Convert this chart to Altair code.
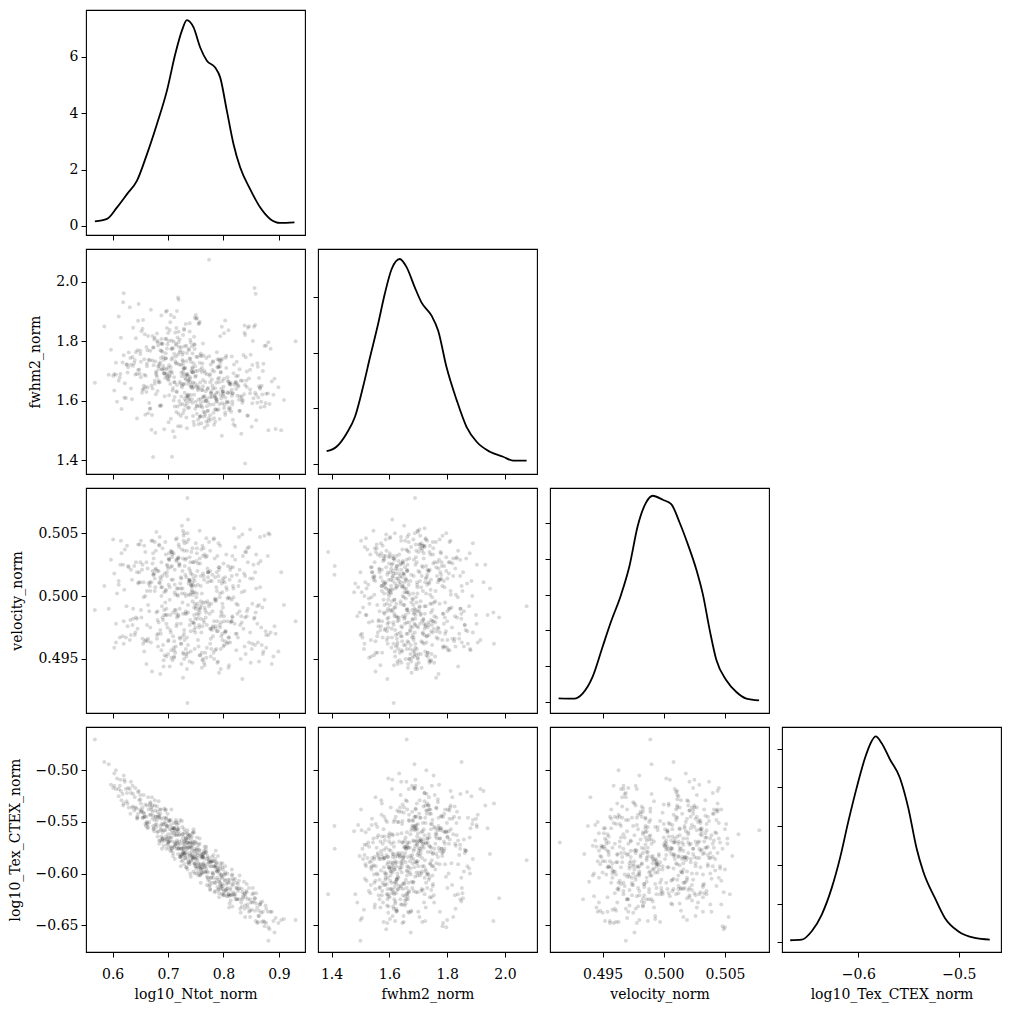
import altair as alt
import pandas as pd

# Posterior samples (one entry per draw)
ntot = [
    0.742, 0.691, 0.788, 0.735, 0.804, 0.667, 0.758, 0.719, 0.812, 0.703, 0.776, 0.731,
    0.654, 0.748, 0.795, 0.726, 0.683, 0.839, 0.712, 0.765, 0.745, 0.622, 0.781, 0.737,
    0.698, 0.829, 0.751, 0.709, 0.676, 0.792, 0.739, 0.861, 0.728, 0.756, 0.688, 0.801,
    0.744, 0.715, 0.642, 0.771, 0.733, 0.799, 0.706, 0.822, 0.752, 0.681, 0.763, 0.727,
    0.568, 0.786, 0.741, 0.695, 0.817, 0.722, 0.659, 0.759, 0.794, 0.711, 0.848, 0.736,
    0.673, 0.769, 0.729, 0.806, 0.747, 0.701, 0.785, 0.633, 0.754, 0.718, 0.833, 0.692,
    0.762, 0.738, 0.874, 0.685, 0.797, 0.724, 0.753, 0.664, 0.779, 0.743, 0.708, 0.815,
    0.732, 0.603, 0.772, 0.697, 0.791, 0.749, 0.716, 0.856, 0.739, 0.678, 0.767, 0.802,
    0.721, 0.746, 0.689, 0.783, 0.611, 0.757, 0.734, 0.809, 0.699, 0.764, 0.842, 0.725,
    0.668, 0.793, 0.740, 0.714, 0.778, 0.930, 0.702, 0.755, 0.687, 0.824, 0.730, 0.761,
    0.749, 0.646, 0.798, 0.720, 0.771, 0.707, 0.836, 0.743, 0.679, 0.789, 0.733, 0.811,
    0.694, 0.758, 0.727, 0.866, 0.716, 0.782, 0.651, 0.746, 0.803, 0.737, 0.672, 0.768,
    0.753, 0.710, 0.790, 0.585, 0.741, 0.818, 0.698, 0.764, 0.729, 0.796, 0.684, 0.750,
    0.723, 0.852, 0.705, 0.775, 0.738, 0.661, 0.787, 0.744, 0.813, 0.693, 0.760, 0.731,
    0.780, 0.717, 0.627, 0.754, 0.826, 0.700, 0.770, 0.740, 0.676, 0.795, 0.748, 0.881,
    0.712, 0.763, 0.735, 0.686, 0.801, 0.725, 0.657, 0.777, 0.751, 0.844, 0.706, 0.742,
    0.796, 0.670, 0.757, 0.728, 0.808, 0.696, 0.773, 0.614, 0.747, 0.791, 0.719, 0.834,
    0.739, 0.682, 0.766, 0.904, 0.721, 0.785, 0.703, 0.759, 0.736, 0.820, 0.665, 0.752,
    0.774, 0.730, 0.691, 0.798, 0.744, 0.637, 0.762, 0.715, 0.807, 0.727, 0.859, 0.690,
    0.756, 0.709, 0.784, 0.734, 0.677, 0.829, 0.748, 0.701, 0.769, 0.593, 0.789, 0.723,
    0.745, 0.816, 0.688, 0.760, 0.732, 0.799, 0.662, 0.776, 0.718, 0.849, 0.741, 0.705,
    0.786, 0.649, 0.753, 0.724, 0.810, 0.696, 0.767, 0.738, 0.871, 0.713, 0.781, 0.674,
    0.750, 0.729, 0.794, 0.704, 0.763, 0.620, 0.743, 0.823, 0.686, 0.772, 0.736, 0.805,
    0.716, 0.758, 0.680, 0.788, 0.747, 0.839, 0.697, 0.765, 0.727, 0.656, 0.793, 0.740,
    0.761, 0.711, 0.803, 0.733, 0.672, 0.777, 0.749, 0.864, 0.707, 0.755, 0.815, 0.726,

    0.812, 0.668, 0.745, 0.851, 0.702, 0.637, 0.779, 0.724, 0.866, 0.690, 0.759, 0.613,
    0.798, 0.731, 0.655, 0.827, 0.746, 0.684, 0.890, 0.717, 0.772, 0.641, 0.805, 0.709,
    0.676, 0.838, 0.752, 0.625, 0.790, 0.698, 0.861, 0.737, 0.660, 0.818, 0.713, 0.784,
    0.741, 0.603, 0.793, 0.679, 0.846, 0.722, 0.763, 0.650, 0.832, 0.705, 0.877, 0.688,
    0.768, 0.632, 0.809, 0.733, 0.695, 0.857, 0.662, 0.786, 0.720, 0.899, 0.647, 0.755,
    0.694, 0.821, 0.715, 0.776, 0.618, 0.841, 0.739, 0.671, 0.800, 0.726, 0.883, 0.658,
    0.787, 0.706, 0.867, 0.644, 0.760, 0.692, 0.815, 0.729, 0.608, 0.848, 0.682, 0.773,
    0.723, 0.835, 0.664, 0.797, 0.711, 0.629, 0.870, 0.750, 0.686, 0.824, 0.744, 0.597,
    0.854, 0.700, 0.783, 0.652, 0.811, 0.736, 0.673, 0.892, 0.718, 0.766, 0.639, 0.803,
    0.710, 0.780, 0.620, 0.843, 0.697, 0.757, 0.666, 0.829, 0.734, 0.874, 0.681, 0.792,
    0.762, 0.645, 0.817, 0.703, 0.859, 0.727, 0.683, 0.806, 0.615, 0.770, 0.712, 0.840,
    0.693, 0.863, 0.748, 0.656, 0.788, 0.719, 0.831, 0.675, 0.909, 0.742, 0.631, 0.799,
    0.821, 0.687, 0.771, 0.606, 0.735, 0.855, 0.701, 0.795, 0.661, 0.776, 0.846, 0.714,
    0.654, 0.785, 0.728, 0.880, 0.696, 0.813, 0.640, 0.757, 0.823, 0.689, 0.765, 0.626,
    0.837, 0.708, 0.670, 0.794, 0.751, 0.862, 0.635, 0.732, 0.810, 0.678, 0.885, 0.721,
    0.744, 0.659, 0.826, 0.699, 0.778, 0.611, 0.852, 0.716, 0.769, 0.648, 0.801, 0.733,
    0.685, 0.872, 0.739, 0.807, 0.663, 0.754, 0.834, 0.704, 0.621, 0.789, 0.725, 0.858,
    0.776, 0.642, 0.816, 0.730, 0.894, 0.674, 0.761, 0.696, 0.844, 0.712, 0.783, 0.653,
    0.707, 0.830, 0.667, 0.758, 0.601, 0.803, 0.720, 0.869, 0.690, 0.747, 0.819, 0.680,
    0.796, 0.628, 0.736, 0.853, 0.715, 0.774, 0.657, 0.838, 0.702, 0.781, 0.644, 0.864,
    0.727, 0.809, 0.684, 0.766, 0.877, 0.633, 0.749, 0.828, 0.669, 0.792, 0.711, 0.616,
    0.848, 0.698, 0.782, 0.651, 0.825, 0.740, 0.887, 0.677, 0.764, 0.606, 0.816, 0.730,
    0.672, 0.800, 0.719, 0.868, 0.646, 0.777, 0.706, 0.839, 0.752, 0.624, 0.791, 0.688,
    0.814, 0.734, 0.663, 0.857, 0.700, 0.770, 0.636, 0.808, 0.723, 0.881, 0.693, 0.759,
    0.745, 0.876, 0.681, 0.787, 0.619, 0.833, 0.714, 0.767, 0.650, 0.842, 0.729, 0.798,
]

fwhm2 = [
    1.652, 1.718, 1.604, 1.689, 1.745, 1.573, 1.661, 1.797, 1.628, 1.682, 1.551, 1.709,
    1.637, 1.774, 1.695, 1.589, 1.668, 1.821, 1.612, 1.702, 1.548, 1.659, 1.733, 1.620,
    1.691, 1.565, 1.748, 1.643, 1.812, 1.677, 1.598, 1.726, 1.655, 1.861, 1.584, 1.674,
    1.708, 1.632, 1.763, 1.517, 1.686, 1.617, 1.739, 1.664, 1.582, 1.801, 1.649, 1.697,
    1.660, 1.608, 1.731, 1.676, 1.536, 1.768, 1.646, 1.593, 1.714, 1.881, 1.625, 1.683,
    1.410, 1.744, 1.656, 1.597, 1.789, 1.669, 1.529, 1.721, 1.641, 1.756, 1.603, 1.693,
    1.725, 1.577, 1.580, 1.662, 1.849, 1.614, 1.700, 1.558, 1.671, 1.783, 1.634, 1.749,
    1.599, 1.690, 1.643, 1.809, 1.571, 1.716, 1.653, 1.980, 1.742, 1.622, 1.694, 1.586,
    1.763, 1.647, 1.705, 1.541, 1.667, 1.728, 1.590, 1.837, 1.679, 1.612, 1.698, 1.651,
    1.574, 1.736, 1.663, 1.792, 1.624, 1.800, 1.685, 1.521, 1.744, 1.659, 1.606, 1.711,
    1.681, 1.869, 1.591, 1.722, 1.639, 1.411, 1.754, 1.605, 1.687, 1.568, 1.733, 1.657,
    1.615, 1.704, 1.762, 1.644, 1.902, 1.587, 1.679, 1.726, 1.552, 1.669, 1.818, 1.632,
    1.747, 1.601, 1.673, 1.850, 1.619, 1.692, 1.776, 1.563, 1.688, 1.640, 1.724, 1.596,
    1.658, 1.720, 1.539, 1.684, 1.771, 1.629, 1.596, 1.713, 1.660, 1.504, 1.750, 1.676,
    1.703, 1.580, 1.695, 1.635, 1.652, 1.828, 1.607, 1.741, 1.667, 1.618, 1.789, 1.500,
    1.661, 1.793, 1.615, 1.729, 1.575, 1.682, 1.740, 1.626, 1.876, 1.549, 1.699, 1.645,
    1.735, 1.651, 1.581, 1.707, 1.666, 1.760, 1.531, 1.690, 1.620, 1.712, 1.940, 1.593,
    1.673, 1.715, 1.560, 1.500, 1.806, 1.642, 1.697, 1.759, 1.610, 1.654, 1.738, 1.583,
    2.075, 1.627, 1.748, 1.666, 1.593, 1.718, 1.636, 1.845, 1.679, 1.558, 1.620, 1.706,
    1.644, 1.777, 1.618, 1.690, 1.732, 1.566, 1.659, 1.801, 1.601, 1.687, 1.713, 1.548,
    1.696, 1.624, 1.767, 1.583, 1.671, 1.633, 1.725, 1.662, 1.514, 1.755, 1.648, 1.889,
    1.609, 1.691, 1.652, 1.780, 1.577, 1.743, 1.663, 1.606, 1.700, 1.830, 1.641, 1.719,
    1.684, 1.569, 1.727, 1.656, 1.612, 1.962, 1.696, 1.639, 1.770, 1.595, 1.666, 1.710,
    1.628, 1.752, 1.681, 1.599, 1.815, 1.388, 1.706, 1.546, 1.733, 1.650, 1.589, 1.679,
    1.697, 1.663, 1.611, 1.785, 1.641, 1.722, 1.573, 1.649, 1.692, 1.858, 1.617, 1.737,

    1.574, 1.768, 1.661, 1.512, 1.719, 1.846, 1.612, 1.694, 1.640, 1.792, 1.548, 1.678,
    1.741, 1.583, 1.872, 1.648, 1.529, 1.707, 1.620, 1.813, 1.566, 1.688, 1.751, 1.497,
    1.657, 1.829, 1.556, 1.722, 1.628, 1.903, 1.593, 1.774, 1.684, 1.521, 1.733, 1.615,
    1.796, 1.634, 1.538, 1.699, 1.851, 1.587, 1.670, 1.757, 1.489, 1.713, 1.623, 1.887,
    1.599, 1.744, 1.664, 1.543, 1.808, 1.627, 1.716, 1.571, 1.781, 1.645, 1.926, 1.604,
    1.693, 1.515, 1.787, 1.612, 1.729, 1.668, 1.861, 1.552, 1.647, 1.755, 1.589, 1.824,
    1.626, 1.803, 1.578, 1.690, 1.524, 1.738, 1.637, 1.842, 1.596, 1.704, 1.786, 1.541,
    1.720, 1.601, 1.818, 1.482, 1.679, 1.762, 1.621, 1.889, 1.584, 1.731, 1.642, 1.772,
    1.608, 1.711, 1.519, 1.834, 1.656, 1.575, 1.779, 1.674, 1.948, 1.616, 1.727, 1.560,
    1.799, 1.651, 1.753, 1.550, 1.686, 1.866, 1.592, 1.706, 1.507, 1.784, 1.633, 1.740,
    1.577, 1.770, 1.625, 1.838, 1.534, 1.723, 1.661, 1.594, 1.812, 1.689, 1.478, 1.746,
    1.708, 1.611, 1.879, 1.639, 1.763, 1.556, 1.668, 1.806, 1.602, 1.701, 1.915, 1.630,
    1.660, 1.793, 1.565, 1.728, 1.619, 1.849, 1.527, 1.697, 1.781, 1.586, 1.675, 1.749,
    1.842, 1.570, 1.709, 1.624, 1.900, 1.654, 1.737, 1.545, 1.682, 1.791, 1.598, 1.722,
    1.622, 1.745, 1.502, 1.817, 1.647, 1.714, 1.605, 1.858, 1.569, 1.693, 1.775, 1.663,
    1.759, 1.553, 1.684, 1.790, 1.631, 1.884, 1.591, 1.726, 1.530, 1.705, 1.827, 1.614,
    1.582, 1.724, 1.833, 1.628, 1.770, 1.536, 1.667, 1.864, 1.610, 1.739, 1.645, 1.960,
    1.690, 1.810, 1.597, 1.711, 1.505, 1.779, 1.636, 1.742, 1.846, 1.580, 1.698, 1.627,
    1.777, 1.615, 1.736, 1.547, 1.683, 1.870, 1.599, 1.650, 1.765, 1.518, 1.722, 1.826,
    1.607, 1.713, 1.656, 1.801, 1.562, 1.750, 1.687, 1.853, 1.618, 1.730, 1.540, 1.676,
    1.821, 1.595, 1.718, 1.509, 1.786, 1.641, 1.700, 1.603, 1.906, 1.662, 1.758, 1.572,
    1.638, 1.845, 1.559, 1.731, 1.617, 1.805, 1.665, 1.492, 1.752, 1.687, 1.587, 1.783,
    1.735, 1.623, 1.832, 1.596, 1.703, 1.537, 1.773, 1.653, 1.878, 1.609, 1.716, 1.808,
    1.563, 1.761, 1.644, 1.855, 1.673, 1.581, 1.747, 1.625, 1.514, 1.797, 1.691, 1.606,
    1.695, 1.592, 1.797, 1.660, 1.932, 1.613, 1.725, 1.553, 1.768, 1.646, 1.838, 1.629,
]

velocity = [
    0.5003, 0.4981, 0.5019, 0.5078, 0.4972, 0.5008, 0.4990, 0.5031, 0.4963, 0.4997, 0.5012, 0.4986,
    0.5025, 0.4994, 0.4958, 0.5006, 0.4979, 0.5016, 0.4989, 0.4947, 0.5001, 0.5037, 0.4975, 0.5010,
    0.4985, 0.5021, 0.4999, 0.4968, 0.5004, 0.4939, 0.5013, 0.4992, 0.5044, 0.4977, 0.5007, 0.4961,
    0.4996, 0.5028, 0.4983, 0.5011, 0.4954, 0.4991, 0.5035, 0.4970, 0.5002, 0.4988, 0.5018, 0.5052,
    0.4989, 0.4974, 0.5009, 0.4995, 0.5023, 0.4966, 0.5000, 0.4982, 0.5040, 0.4957, 0.5014, 0.4993,
    0.5017, 0.4987, 0.4950, 0.5005, 0.4978, 0.5030, 0.4998, 0.4969, 0.5026, 0.4984, 0.5003, 0.4944,
    0.4976, 0.5012, 0.4997, 0.5047, 0.4986, 0.4962, 0.5020, 0.4993, 0.4973, 0.5008, 0.5033, 0.4980,
    0.5000, 0.4959, 0.5015, 0.4990, 0.5042, 0.4971, 0.5006, 0.4983, 0.4948, 0.5022, 0.4995, 0.5011,
    0.4967, 0.5027, 0.4992, 0.4980, 0.5009, 0.4953, 0.5036, 0.4999, 0.4975, 0.5016, 0.4988, 0.5056,
    0.5004, 0.4977, 0.5020, 0.4960, 0.4994, 0.4980, 0.5029, 0.4985, 0.5013, 0.4970, 0.5002, 0.4943,
    0.4982, 0.5010, 0.4965, 0.5039, 0.4996, 0.5024, 0.4974, 0.5005, 0.4987, 0.5032, 0.4952, 0.4998,
    0.5018, 0.4991, 0.4935, 0.5007, 0.4978, 0.5045, 0.4989, 0.5014, 0.4964, 0.5001, 0.5026, 0.4983,
    0.4994, 0.5034, 0.4972, 0.5008, 0.4956, 0.4999, 0.5019, 0.4981, 0.5050, 0.4968, 0.5011, 0.4990,
    0.5006, 0.4962, 0.5023, 0.4986, 0.5013, 0.4946, 0.4997, 0.5038, 0.4979, 0.5003, 0.4971, 0.5017,
    0.4988, 0.5030, 0.4976, 0.5009, 0.4993, 0.5022, 0.4959, 0.5001, 0.5043, 0.4984, 0.5012, 0.4969,
    0.5021, 0.4995, 0.4915, 0.5015, 0.4980, 0.5002, 0.5040, 0.4966, 0.4992, 0.5027, 0.4951, 0.5008,
    0.4979, 0.5011, 0.4987, 0.5048, 0.4963, 0.5004, 0.4994, 0.5025, 0.4973, 0.5016, 0.4985, 0.4934,
    0.5012, 0.4970, 0.5033, 0.5019, 0.4990, 0.4957, 0.5007, 0.4996, 0.5061, 0.4978, 0.5010, 0.4986,
    0.4992, 0.5024, 0.4961, 0.5003, 0.5017, 0.4982, 0.4949, 0.5029, 0.4998, 0.4968, 0.5006, 0.5038,
    0.4975, 0.5013, 0.4997, 0.4942, 0.5021, 0.4988, 0.5003, 0.4965, 0.5046, 0.4990, 0.4980, 0.5015,
    0.5009, 0.4984, 0.5027, 0.4993, 0.4958, 0.5012, 0.4977, 0.5036, 0.5000, 0.4947, 0.5018, 0.4971,
    0.4996, 0.5041, 0.4982, 0.5014, 0.4967, 0.5005, 0.4989, 0.5022, 0.4954, 0.5001, 0.4976, 0.5030,
    0.5016, 0.4973, 0.5002, 0.4985, 0.5032, 0.4962, 0.5011, 0.4994, 0.4938, 0.5019, 0.4987, 0.5007,
    0.4983, 0.5026, 0.4969, 0.5004, 0.4991, 0.5035, 0.4978, 0.5013, 0.4955, 0.4999, 0.5023, 0.4981,
    0.5002, 0.4964, 0.5015, 0.4986, 0.5044, 0.4974, 0.5008, 0.4993, 0.5031, 0.4960, 0.4997, 0.5020,

    0.5021, 0.4975, 0.5003, 0.4958, 0.5034, 0.4990, 0.5012, 0.4946, 0.5047, 0.4983, 0.5016, 0.4967,
    0.4994, 0.5029, 0.4962, 0.5008, 0.4979, 0.5041, 0.4952, 0.5001, 0.5019, 0.4971, 0.5033, 0.4987,
    0.5014, 0.4960, 0.5038, 0.4992, 0.4948, 0.5025, 0.4978, 0.5045, 0.4965, 0.5006, 0.4955, 0.5030,
    0.4972, 0.5018, 0.4999, 0.5051, 0.4963, 0.5010, 0.4950, 0.5027, 0.4984, 0.5036, 0.4969, 0.5000,
    0.5031, 0.4981, 0.4943, 0.5015, 0.5043, 0.4961, 0.5004, 0.4976, 0.5024, 0.4956, 0.5011, 0.4989,
    0.4953, 0.5039, 0.4986, 0.5020, 0.4968, 0.5035, 0.4977, 0.4940, 0.5026, 0.4995, 0.5049, 0.4964,
    0.5007, 0.4957, 0.5028, 0.4982, 0.5037, 0.4949, 0.5016, 0.4970, 0.5002, 0.5053, 0.4960, 0.5019,
    0.4978, 0.5032, 0.4966, 0.5010, 0.4951, 0.5023, 0.4991, 0.5042, 0.4973, 0.5017, 0.4947, 0.5029,
    0.5025, 0.4964, 0.5046, 0.4983, 0.5013, 0.4955, 0.5034, 0.4976, 0.5006, 0.4945, 0.5024, 0.4971,
    0.4959, 0.5017, 0.4980, 0.5038, 0.4952, 0.5030, 0.4988, 0.5012, 0.4967, 0.5048, 0.4981, 0.5021,
    0.5040, 0.4974, 0.5008, 0.4944, 0.5033, 0.4986, 0.5020, 0.4962, 0.5044, 0.4977, 0.5003, 0.4954,
    0.4985, 0.5026, 0.4958, 0.5011, 0.4972, 0.5041, 0.4950, 0.5018, 0.4993, 0.5035, 0.4965, 0.5014,
    0.5029, 0.4970, 0.5022, 0.4963, 0.5050, 0.4982, 0.5009, 0.4942, 0.5027, 0.4974, 0.5039, 0.4989,
    0.4966, 0.5015, 0.4954, 0.5032, 0.4985, 0.5023, 0.4969, 0.5052, 0.4957, 0.5007, 0.4979, 0.5040,
    0.5018, 0.4949, 0.5044, 0.4975, 0.5028, 0.4963, 0.5013, 0.4988, 0.4945, 0.5036, 0.4971, 0.5025,
    0.4979, 0.5035, 0.4967, 0.5024, 0.4958, 0.5012, 0.4994, 0.5046, 0.4951, 0.5019, 0.4984, 0.5030,
    0.5010, 0.4956, 0.5031, 0.4980, 0.5022, 0.4965, 0.5049, 0.4973, 0.5005, 0.4947, 0.5037, 0.4987,
    0.4962, 0.5027, 0.4983, 0.5042, 0.4970, 0.5017, 0.4955, 0.5033, 0.4990, 0.5009, 0.4950, 0.5021,
    0.5035, 0.4977, 0.5011, 0.4953, 0.5045, 0.4972, 0.5026, 0.4961, 0.5016, 0.4985, 0.5054, 0.4966,
    0.4988, 0.5024, 0.4961, 0.5014, 0.4976, 0.5043, 0.4956, 0.5004, 0.5029, 0.4968, 0.5019, 0.4948,
    0.5030, 0.4967, 0.5040, 0.4991, 0.4959, 0.5021, 0.4975, 0.5047, 0.4963, 0.5012, 0.4952, 0.5034,
    0.4971, 0.5016, 0.4955, 0.5044, 0.4986, 0.5027, 0.4946, 0.5007, 0.5038, 0.4978, 0.5032, 0.4965,
    0.5020, 0.4960, 0.5030, 0.4975, 0.5041, 0.4952, 0.5013, 0.4983, 0.5034, 0.4967, 0.5023, 0.4957,
    0.4980, 0.5043, 0.4964, 0.5019, 0.4954, 0.5032, 0.4977, 0.5024, 0.4962, 0.5050, 0.4989, 0.5008,
    0.5027, 0.4972, 0.5020, 0.4958, 0.5025, 0.4979, 0.5045, 0.4955, 0.5011, 0.4984, 0.5036, 0.4970,
]

tex_ctex = [
    -0.574, -0.567, -0.598, -0.558, -0.616, -0.543, -0.602, -0.559, -0.616, -0.549, -0.615, -0.568,
    -0.536, -0.591, -0.590, -0.575, -0.543, -0.642, -0.563, -0.578, -0.586, -0.511, -0.600, -0.590,
    -0.554, -0.614, -0.593, -0.580, -0.534, -0.608, -0.563, -0.633, -0.580, -0.577, -0.564, -0.601,
    -0.581, -0.550, -0.537, -0.591, -0.594, -0.596, -0.565, -0.625, -0.577, -0.564, -0.584, -0.571,
    -0.470, -0.609, -0.566, -0.558, -0.611, -0.584, -0.533, -0.591, -0.593, -0.556, -0.636, -0.586,
    -0.554, -0.579, -0.574, -0.622, -0.578, -0.549, -0.617, -0.522, -0.590, -0.576, -0.615, -0.553,
    -0.596, -0.571, -0.647, -0.538, -0.604, -0.581, -0.580, -0.555, -0.588, -0.583, -0.569, -0.602,
    -0.565, -0.515, -0.599, -0.567, -0.597, -0.571, -0.568, -0.624, -0.591, -0.545, -0.599, -0.606,
    -0.562, -0.585, -0.569, -0.593, -0.518, -0.571, -0.582, -0.620, -0.554, -0.590, -0.618, -0.583,
    -0.532, -0.606, -0.570, -0.571, -0.593, -0.645, -0.569, -0.572, -0.557, -0.625, -0.571, -0.600,
    -0.590, -0.521, -0.610, -0.563, -0.583, -0.576, -0.621, -0.578, -0.555, -0.613, -0.566, -0.606,
    -0.550, -0.583, -0.581, -0.630, -0.553, -0.604, -0.540, -0.598, -0.607, -0.570, -0.547, -0.580,
    -0.587, -0.561, -0.595, -0.492, -0.588, -0.618, -0.566, -0.584, -0.557, -0.612, -0.546, -0.584,
    -0.576, -0.628, -0.553, -0.608, -0.575, -0.550, -0.589, -0.585, -0.614, -0.558, -0.581, -0.585,
    -0.599, -0.557, -0.532, -0.582, -0.610, -0.571, -0.598, -0.574, -0.548, -0.613, -0.569, -0.665,
    -0.572, -0.591, -0.570, -0.542, -0.617, -0.568, -0.542, -0.589, -0.595, -0.633, -0.561, -0.570,
    -0.601, -0.536, -0.594, -0.576, -0.609, -0.564, -0.589, -0.509, -0.584, -0.615, -0.556, -0.625,
    -0.583, -0.559, -0.580, -0.645, -0.571, -0.594, -0.557, -0.596, -0.562, -0.622, -0.538, -0.585,
    -0.587, -0.581, -0.552, -0.594, -0.584, -0.535, -0.584, -0.576, -0.614, -0.565, -0.629, -0.566,
    -0.591, -0.556, -0.609, -0.573, -0.539, -0.625, -0.576, -0.565, -0.595, -0.494, -0.598, -0.584,
    -0.569, -0.610, -0.558, -0.599, -0.575, -0.612, -0.534, -0.593, -0.572, -0.628, -0.587, -0.548,
    -0.592, -0.538, -0.575, -0.576, -0.609, -0.552, -0.598, -0.589, -0.637, -0.573, -0.588, -0.557,
    -0.578, -0.569, -0.609, -0.565, -0.581, -0.532, -0.564, -0.614, -0.554, -0.604, -0.575, -0.617,
    -0.562, -0.593, -0.548, -0.594, -0.590, -0.620, -0.546, -0.592, -0.579, -0.541, -0.600, -0.582,
    -0.582, -0.574, -0.599, -0.579, -0.540, -0.604, -0.581, -0.641, -0.556, -0.598, -0.620, -0.562,

    -0.621, -0.531, -0.560, -0.635, -0.575, -0.523, -0.584, -0.588, -0.630, -0.560, -0.609, -0.515,
    -0.590, -0.585, -0.546, -0.615, -0.557, -0.568, -0.646, -0.557, -0.606, -0.517, -0.610, -0.583,
    -0.529, -0.634, -0.600, -0.530, -0.583, -0.555, -0.648, -0.566, -0.554, -0.607, -0.570, -0.618,
    -0.603, -0.503, -0.596, -0.552, -0.614, -0.548, -0.599, -0.524, -0.628, -0.574, -0.634, -0.552,
    -0.577, -0.542, -0.622, -0.570, -0.539, -0.636, -0.551, -0.578, -0.576, -0.648, -0.520, -0.602,
    -0.568, -0.605, -0.559, -0.616, -0.523, -0.617, -0.580, -0.526, -0.621, -0.555, -0.654, -0.545,
    -0.606, -0.538, -0.628, -0.545, -0.585, -0.573, -0.596, -0.582, -0.508, -0.642, -0.545, -0.585,
    -0.593, -0.623, -0.526, -0.620, -0.556, -0.536, -0.627, -0.586, -0.568, -0.614, -0.561, -0.514,
    -0.619, -0.569, -0.593, -0.540, -0.629, -0.564, -0.544, -0.657, -0.581, -0.574, -0.539, -0.601,
    -0.551, -0.609, -0.505, -0.630, -0.576, -0.578, -0.550, -0.602, -0.576, -0.651, -0.540, -0.623,
    -0.584, -0.546, -0.605, -0.568, -0.619, -0.587, -0.530, -0.615, -0.520, -0.603, -0.559, -0.623,
    -0.546, -0.641, -0.600, -0.524, -0.590, -0.575, -0.638, -0.559, -0.644, -0.575, -0.518, -0.615,
    -0.620, -0.538, -0.586, -0.500, -0.596, -0.627, -0.570, -0.602, -0.545, -0.611, -0.637, -0.548,
    -0.546, -0.586, -0.578, -0.637, -0.547, -0.626, -0.526, -0.566, -0.609, -0.576, -0.594, -0.522,
    -0.608, -0.575, -0.538, -0.611, -0.570, -0.647, -0.536, -0.567, -0.633, -0.545, -0.637, -0.584,
    -0.571, -0.552, -0.617, -0.542, -0.604, -0.525, -0.620, -0.570, -0.574, -0.529, -0.621, -0.594,
    -0.545, -0.646, -0.563, -0.600, -0.556, -0.594, -0.618, -0.578, -0.509, -0.604, -0.549, -0.646,
    -0.589, -0.536, -0.632, -0.560, -0.643, -0.556, -0.594, -0.538, -0.625, -0.586, -0.588, -0.539,
    -0.558, -0.634, -0.534, -0.601, -0.517, -0.593, -0.569, -0.647, -0.566, -0.560, -0.620, -0.535,
    -0.615, -0.517, -0.589, -0.614, -0.563, -0.612, -0.545, -0.619, -0.548, -0.601, -0.547, -0.636,
    -0.562, -0.620, -0.571, -0.586, -0.648, -0.511, -0.593, -0.607, -0.543, -0.619, -0.556, -0.529,
    -0.625, -0.572, -0.582, -0.532, -0.625, -0.600, -0.637, -0.553, -0.580, -0.518, -0.601, -0.580,
    -0.534, -0.619, -0.551, -0.638, -0.542, -0.588, -0.578, -0.631, -0.565, -0.518, -0.616, -0.547,
    -0.621, -0.561, -0.552, -0.624, -0.562, -0.611, -0.515, -0.606, -0.582, -0.652, -0.537, -0.595,
    -0.572, -0.631, -0.560, -0.597, -0.534, -0.632, -0.551, -0.593, -0.528, -0.610, -0.591, -0.603,
]

# Marginal density curves (grid position, density)
ntot_kde_x = [0.568, 0.590, 0.608, 0.626, 0.644, 0.662, 0.680, 0.698, 0.713, 0.725, 0.734,
              0.746, 0.758, 0.770, 0.785, 0.794, 0.806, 0.818, 0.830, 0.848, 0.866, 0.884,
              0.902, 0.928]
ntot_kde_y = [0.16, 0.25, 0.66, 1.13, 1.61, 2.55, 3.62, 4.80, 6.10, 6.93, 7.30,
              7.04, 6.33, 5.86, 5.62, 5.27, 4.09, 2.91, 2.08, 1.31, 0.66, 0.25,
              0.11, 0.13]

fwhm2_kde_x = [1.383, 1.417, 1.452, 1.481, 1.509, 1.533, 1.561, 1.584, 1.608, 1.636, 1.660,
               1.688, 1.711, 1.746, 1.769, 1.798, 1.833, 1.867, 1.902, 1.948, 1.994, 2.028,
               2.075]
fwhm2_kde_y = [0.23, 0.31, 0.55, 0.85, 1.39, 1.92, 2.52, 3.06, 3.51, 3.69, 3.54,
               3.18, 2.91, 2.67, 2.40, 1.74, 1.15, 0.67, 0.40, 0.22, 0.13, 0.06,
               0.06]

velocity_kde_x = [0.4914, 0.49268, 0.49336, 0.49418, 0.4950, 0.49569, 0.49651, 0.49719,
                  0.49787, 0.49856, 0.49910, 0.49992, 0.50061, 0.50129, 0.50197, 0.50266,
                  0.50320, 0.50375, 0.50430, 0.50511, 0.50593, 0.50675, 0.50779]
velocity_kde_y = [2.8, 2.6, 6.1, 17.7, 38.7, 56.2, 74.9, 94.7,
                  122.7, 139.1, 143.7, 140.9, 137.9, 125.1, 109.9, 92.4,
                  74.9, 50.4, 29.4, 15.4, 7.2, 2.6, 1.4]

tex_kde_x = [-0.6678, -0.6563, -0.6464, -0.6364, -0.6265, -0.6182, -0.6099, -0.6017,
             -0.5933, -0.5868, -0.5828, -0.5769, -0.5685, -0.5586, -0.5503, -0.5421,
             -0.5355, -0.5238, -0.5139, -0.5007, -0.4841, -0.4692]
tex_kde_y = [0.13, 0.17, 0.71, 1.79, 3.51, 5.45, 7.82, 9.97,
             11.91, 12.98, 13.29, 12.87, 11.80, 10.61, 8.68, 6.09,
             4.59, 2.86, 1.57, 0.71, 0.28, 0.17]

# Parameter names, axis ranges and ticks
params = ["N", "F", "V", "T"]
titles = {"N": "log10_Ntot_norm", "F": "fwhm2_norm",
          "V": "velocity_norm", "T": "log10_Tex_CTEX_norm"}
domains = {"N": [0.552, 0.947], "F": [1.353, 2.111],
           "V": [0.4907, 0.5086], "T": [-0.676, -0.458]}
x_ticks = {"N": [0.6, 0.7, 0.8, 0.9], "F": [1.4, 1.6, 1.8, 2.0],
           "V": [0.495, 0.5, 0.505], "T": [-0.6, -0.5]}
x_fmt = {"N": ".1f", "F": ".1f", "V": ".3f", "T": ".1f"}
y_ticks = {"N": [0.6, 0.7, 0.8, 0.9], "F": [1.4, 1.6, 1.8, 2.0],
           "V": [0.495, 0.5, 0.505], "T": [-0.65, -0.6, -0.55, -0.5]}
y_fmt = {"N": ".1f", "F": ".1f", "V": ".3f", "T": ".2f"}
dens_domains = {"N": [-0.32, 7.66], "F": [-0.18, 3.87],
                "V": [-7.4, 149.1], "T": [-0.63, 13.9]}
dens_ticks = {"N": [0, 2, 4, 6], "F": [0, 1, 2, 3],
              "V": [0, 25, 50, 75, 100, 125], "T": [0, 2.5, 5, 7.5, 10, 12.5]}

samples = pd.DataFrame({"N": ntot, "F": fwhm2, "V": velocity, "T": tex_ctex})
kdes = {
    "N": pd.DataFrame({"x": ntot_kde_x, "d": ntot_kde_y}),
    "F": pd.DataFrame({"x": fwhm2_kde_x, "d": fwhm2_kde_y}),
    "V": pd.DataFrame({"x": velocity_kde_x, "d": velocity_kde_y}),
    "T": pd.DataFrame({"x": tex_kde_x, "d": tex_kde_y}),
}

W, H = 219, 225
n = len(params)


def x_enc(field, p, bottom):
    scale = alt.Scale(domain=domains[p], nice=False, zero=False)
    if bottom:
        axis = alt.Axis(values=x_ticks[p], format=x_fmt[p])
        return alt.X(field, type="quantitative", title=titles[p], axis=axis, scale=scale)
    axis = alt.Axis(values=x_ticks[p], labels=False)
    return alt.X(field, type="quantitative", title=None, axis=axis, scale=scale)


cells = []
for i, py in enumerate(params):
    for j, px in enumerate(params):
        bottom = i == n - 1
        if j < i:
            # pairwise scatter of the samples
            if j == 0:
                yaxis = alt.Axis(values=y_ticks[py], format=y_fmt[py])
                ytitle = titles[py]
            else:
                yaxis = alt.Axis(values=y_ticks[py], labels=False)
                ytitle = None
            cell = alt.Chart(samples).mark_circle(
                size=16, color="black", opacity=0.15
            ).encode(
                x=x_enc(px, px, bottom),
                y=alt.Y(py, type="quantitative", title=ytitle, axis=yaxis,
                        scale=alt.Scale(domain=domains[py], nice=False, zero=False)),
            )
        elif j == i:
            # marginal density on the diagonal
            if i == 0:
                yaxis = alt.Axis(values=dens_ticks[px], format="d")
            else:
                yaxis = alt.Axis(values=dens_ticks[px], labels=False)
            cell = alt.Chart(kdes[px]).mark_line(
                color="black", strokeWidth=1.8, interpolate="monotone"
            ).encode(
                x=x_enc("x", px, bottom),
                y=alt.Y("d", type="quantitative", title=None, axis=yaxis,
                        scale=alt.Scale(domain=dens_domains[px], nice=False, zero=False)),
            )
        else:
            # empty upper triangle
            cell = alt.Chart(pd.DataFrame({"v": [0]})).mark_point(opacity=0).encode(
                x=alt.X("v", type="quantitative", axis=None),
                y=alt.Y("v", type="quantitative", axis=None),
            ).properties(view=alt.ViewBackground(strokeOpacity=0))
        cells.append(cell.properties(width=W, height=H))

chart = alt.concat(
    *cells, columns=4, spacing={"row": 14, "column": 13}, bounds="flush"
).properties(
    padding={"left": 7, "top": 9, "right": 5, "bottom": 5},
    background="white",
).configure_view(
    stroke="black", strokeWidth=1.1
).configure_axis(
    domain=False, grid=False, tickColor="black", tickSize=5, tickWidth=1,
    labelFont="DejaVu Serif", labelFontSize=14, labelColor="black",
    titleFont="DejaVu Serif", titleFontSize=14, titleFontWeight="normal",
    titleColor="black", labelFlush=False, labelOverlap=False, labelPadding=3,
).configure_axisLeft(
    titlePadding=13
).configure_axisBottom(
    titlePadding=6, labelPadding=10
)

chart.save("out.html", embed_options={"renderer": "svg", "actions": False})
